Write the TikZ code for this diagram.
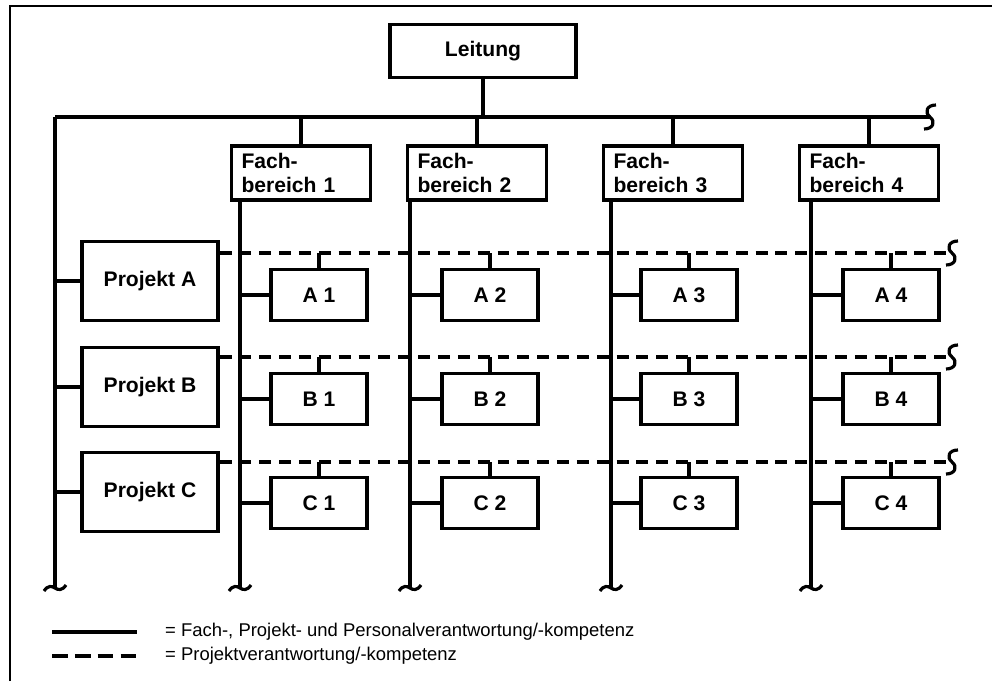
\documentclass[tikz,border=0pt]{standalone}
\usepackage{fontspec}
\setmainfont{Liberation Sans}
\usepackage{tikz}
\usetikzlibrary{positioning,calc}
\tikzstyle{box} = [draw, line width=1.8pt, font=\bfseries\fontsize{12}{13.5}\selectfont, inner sep=0pt]
\tikzstyle{leit} = [box, minimum width=3.72cm, minimum height=1.06cm]
\tikzstyle{fach} = [box, minimum height=1.08cm, text width=2.38cm, align=left, inner xsep=0.2cm]
\tikzstyle{proj} = [box, minimum width=2.72cm, minimum height=1.58cm]
\tikzstyle{zelle} = [box, minimum width=1.92cm, minimum height=1.02cm]
\tikzstyle{linie} = [line width=1.8pt]
\tikzstyle{strich} = [line width=1.8pt, dash pattern=on 6.8pt off 4.5pt]
\tikzstyle{legtext} = [anchor=west, font=\fontsize{10.5}{12}\selectfont]
\tikzset{
  hbruch/.pic={\draw[line width=1.8pt] (6,-12) .. controls (-3,-12) and (-6,-5) .. (0,0) .. controls (6,5) and (3,12) .. (-6,12);},
  vbruch/.pic={\draw[line width=1.8pt] (-11,3) .. controls (-7,-3) and (-3,-2) .. (0,0) .. controls (3,2) and (7,3) .. (11,-3);}
}

\begin{document}
\begin{tikzpicture}[x=0.02cm, y=-0.02cm]
        \useasboundingbox (0,0) rectangle (992,681);
        % Rahmen
        \draw[line width=1pt] (10,681) -- (10,6) -- (992,6);

        \node[leit] (lei) at (483,51) {Leitung};
        \node[fach] (fb1) at (301,173) {Fach-\\bereich 1};
        \node[fach] (fb2) at (477,173) {Fach-\\bereich 2};
        \node[fach] (fb3) at (673,173) {Fach-\\bereich 3};
        \node[fach] (fb4) at (869,173) {Fach-\\bereich 4};

        \node[proj] (pa) at (150,281) {Projekt A};
        \node[proj] (pb) at (150,387) {Projekt B};
        \node[proj] (pc) at (150,492) {Projekt C};

        \node[zelle] (a1) at (319,295) {A 1}; \node[zelle] (a2) at (490,295) {A 2};
        \node[zelle] (a3) at (689,295) {A 3}; \node[zelle] (a4) at (891,295) {A 4};
        \node[zelle] (b1) at (319,399) {B 1}; \node[zelle] (b2) at (490,399) {B 2};
        \node[zelle] (b3) at (689,399) {B 3}; \node[zelle] (b4) at (891,399) {B 4};
        \node[zelle] (c1) at (319,503) {C 1}; \node[zelle] (c2) at (490,503) {C 2};
        \node[zelle] (c3) at (689,503) {C 3}; \node[zelle] (c4) at (891,503) {C 4};

        % Linien
        \coordinate (busL) at (55,117);
        \coordinate (busR) at (930,117);
        \coordinate (lu) at (55,588);
        \coordinate (f1u) at (240,588);
        \coordinate (f2u) at (410,588);
        \coordinate (f3u) at (611,588);
        \coordinate (f4u) at (811,588);
        \coordinate (da) at (952,253);
        \coordinate (db) at (952,357);
        \coordinate (dc) at (952,462);

        \draw[linie] (busL) -- (busR);
        \draw[linie] (busL) -- (lu);
        \draw[linie] (lei.south) -- (lei.south |- busL);
        \draw[linie] (fb1.north) -- (fb1.north |- busL);
        \draw[linie] (fb2.north) -- (fb2.north |- busL);
        \draw[linie] (fb3.north) -- (fb3.north |- busL);
        \draw[linie] (fb4.north) -- (fb4.north |- busL);
        \draw[linie] (fb1.south -| f1u) -- (f1u);
        \draw[linie] (fb2.south -| f2u) -- (f2u);
        \draw[linie] (fb3.south -| f3u) -- (f3u);
        \draw[linie] (fb4.south -| f4u) -- (f4u);

        \draw[linie] (pa.west) -- (pa.west -| lu);
        \draw[linie] (pb.west) -- (pb.west -| lu);
        \draw[linie] (pc.west) -- (pc.west -| lu);

        \draw[strich] (pa.east |- da) -- (da);
        \draw[strich] (pb.east |- db) -- (db);
        \draw[strich] (pc.east |- dc) -- (dc);

        \draw[linie] (a1.west) -- (a1.west -| f1u); \draw[linie] (a1.north) -- (a1.north |- da);
        \draw[linie] (a2.west) -- (a2.west -| f2u); \draw[linie] (a2.north) -- (a2.north |- da);
        \draw[linie] (a3.west) -- (a3.west -| f3u); \draw[linie] (a3.north) -- (a3.north |- da);
        \draw[linie] (a4.west) -- (a4.west -| f4u); \draw[linie] (a4.north) -- (a4.north |- da);
        \draw[linie] (b1.west) -- (b1.west -| f1u); \draw[linie] (b1.north) -- (b1.north |- db);
        \draw[linie] (b2.west) -- (b2.west -| f2u); \draw[linie] (b2.north) -- (b2.north |- db);
        \draw[linie] (b3.west) -- (b3.west -| f3u); \draw[linie] (b3.north) -- (b3.north |- db);
        \draw[linie] (b4.west) -- (b4.west -| f4u); \draw[linie] (b4.north) -- (b4.north |- db);
        \draw[linie] (c1.west) -- (c1.west -| f1u); \draw[linie] (c1.north) -- (c1.north |- dc);
        \draw[linie] (c2.west) -- (c2.west -| f2u); \draw[linie] (c2.north) -- (c2.north |- dc);
        \draw[linie] (c3.west) -- (c3.west -| f3u); \draw[linie] (c3.north) -- (c3.north |- dc);
        \draw[linie] (c4.west) -- (c4.west -| f4u); \draw[linie] (c4.north) -- (c4.north |- dc);

        % Bruchstellen
        \pic at (busR) {hbruch};
        \pic at (da) {hbruch};
        \pic at (db) {hbruch};
        \pic at (dc) {hbruch};
        \pic at (lu) {vbruch};
        \pic at (f1u) {vbruch};
        \pic at (f2u) {vbruch};
        \pic at (f3u) {vbruch};
        \pic at (f4u) {vbruch};

        % Legende
        \coordinate (l1a) at (52,632); \coordinate (l1b) at (137,632);
        \coordinate (l2a) at (52,656); \coordinate (l2b) at (137,656);
        \draw[line width=2.2pt] (l1a) -- (l1b);
        \draw[line width=2.2pt, dash pattern=on 9pt off 4pt] (l2a) -- (l2b);
        \node[legtext] (leg1) at (159,632) {= Fach-, Projekt- und Personalverantwortung/-kompetenz};
        \node[legtext] (leg2) at (159,656) {= Projektverantwortung/-kompetenz};
\end{tikzpicture}
\end{document}
